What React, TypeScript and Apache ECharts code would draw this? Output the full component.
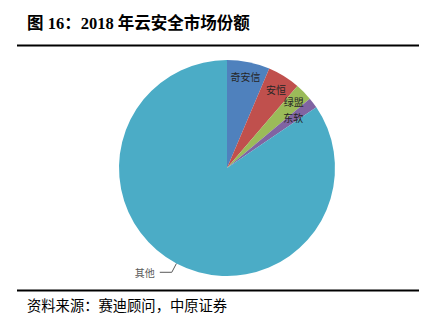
import React, { useEffect, useRef } from 'react';
import * as echarts from 'echarts';

const categories = ['奇安信', '安恒', '绿盟', '东软', '其他'];
const shares = [6.4, 4.9, 2.6, 1.6, 84.5];
const colors = ['#4f81bd', '#c0504d', '#9bbb59', '#8064a2', '#4bacc6'];
const titleText = '图 16：2018 年云安全市场份额';
const sourceText = '资料来源：赛迪顾问，中原证券';

const W = 434;
const H = 336;
const CX = 227;
const CY = 168;
const R = 108;
const insideFrac = [0.86, 0.86, 0.87, 0.77];
const CJK = '"Noto Sans CJK SC", sans-serif';

export default function App() {
  const ref = useRef<HTMLDivElement>(null);
  useEffect(() => {
    if (!ref.current) return;
    const chart = echarts.init(ref.current, null, { renderer: 'svg' });
    const data = categories.map((name, i) => {
      const outside = i === categories.length - 1;
      return {
        name,
        value: shares[i],
        itemStyle: { color: colors[i] },
        label: outside
          ? { position: 'outside', color: '#595959' }
          : { position: 'inside', color: '#262626' },
        labelLine: { show: outside },
      };
    });
    chart.setOption({
      animation: false,
      backgroundColor: '#ffffff',
      series: [
        {
          type: 'pie',
          center: [CX, CY],
          radius: [0, R],
          startAngle: 90,
          clockwise: true,
          data,
          label: {
            show: true,
            formatter: '{b}',
            fontSize: 10,
            fontFamily: CJK,
          },
          labelLine: {
            length: 10,
            length2: 12,
            lineStyle: { color: '#595959', width: 1 },
          },
          emphasis: { disabled: true },
          labelLayout: (p: any) => {
            if (p.dataIndex >= 4) return {};
            const lr = p.labelRect;
            const mx = lr.x + lr.width / 2;
            const my = lr.y + lr.height / 2;
            const dx = mx - CX;
            const dy = my - CY;
            const d = Math.hypot(dx, dy) || 1;
            const f = insideFrac[p.dataIndex] * R;
            return {
              x: CX + (dx / d) * f,
              y: CY + (dy / d) * f,
              align: 'center',
              verticalAlign: 'middle',
            };
          },
        },
      ],
      graphic: [
        {
          type: 'text',
          left: 27,
          top: 15,
          style: {
            text: titleText,
            fontSize: 16.5,
            fontWeight: 'bold',
            fontFamily: '"Liberation Serif", "Noto Sans CJK SC", serif',
            fill: '#000',
          },
        },
        {
          type: 'line',
          shape: { x1: 17, y1: 45.5, x2: 419, y2: 45.5 },
          style: { stroke: '#000', lineWidth: 2 },
        },
        {
          type: 'line',
          shape: { x1: 17, y1: 290.5, x2: 419, y2: 290.5 },
          style: { stroke: '#000', lineWidth: 2 },
        },
        {
          type: 'text',
          left: 27,
          top: 297,
          style: {
            text: sourceText,
            fontSize: 14.3,
            fontFamily: CJK,
            fill: '#000',
          },
        },
      ],
    });
    return () => chart.dispose();
  }, []);
  return (
    <div
      ref={ref}
      style={{ position: 'fixed', left: 0, top: 0, width: W, height: H }}
    />
  );
}
